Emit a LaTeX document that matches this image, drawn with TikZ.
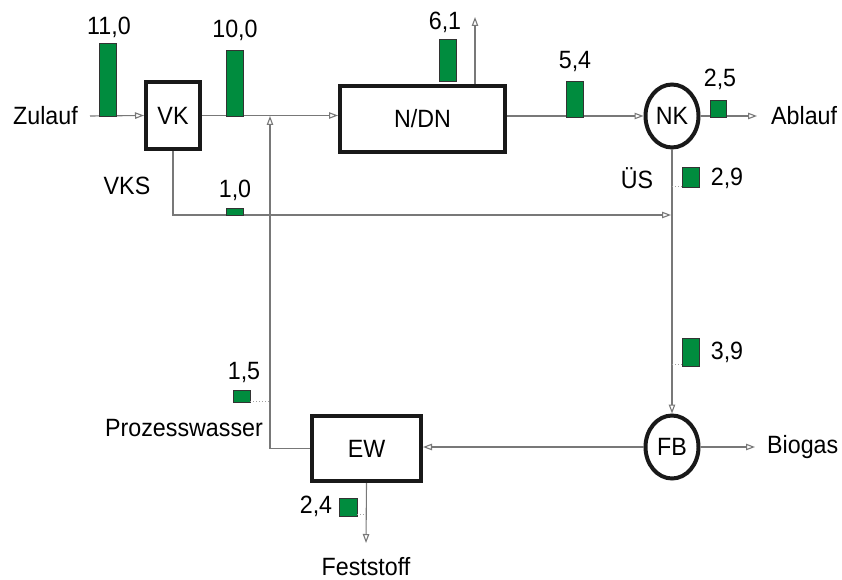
\documentclass[tikz,border=0pt]{standalone}
\usepackage{fontspec}
\setmainfont{Liberation Sans}[FakeStretch=0.93]
\usetikzlibrary{arrows.meta,shapes.geometric}
\definecolor{bargreen}{RGB}{0,140,62}
\definecolor{linegray}{RGB}{120,120,120}
\newcommand{\dtxt}{\fontsize{25}{28}\selectfont}
\tikzset{
  unit/.style={draw=black!90, line width=4pt, fill=white, inner sep=0pt, font=\dtxt},
  boxunit/.style={unit, rectangle},
  ellunit/.style={unit, ellipse, minimum width=53pt, minimum height=63pt},
  lbl/.style={inner sep=0pt, font=\dtxt},
  num/.style={inner sep=0pt, font=\dtxt},
  flow/.style={draw=linegray, line width=1.1pt, -{Triangle[open, length=9pt, width=6.5pt]}},
  bar/.style={fill=bargreen, draw=black!80, line width=0.8pt},
  dots/.style={draw=linegray!70, line width=1pt, dotted},
}
\begin{document}
\begin{tikzpicture}[x=1pt,y=-1pt]
\useasboundingbox (0,0) rectangle (842,580);
% units
\node[boxunit, minimum width=54pt, minimum height=67pt] (vk) at (173,115.5) {VK};
\node[boxunit, minimum width=165pt, minimum height=66pt] (ndn) at (422.5,119) {N/DN};
\node[ellunit] (nk) at (672,116) {NK};
\node[ellunit] (fb) at (672,447) {FB};
\node[boxunit, minimum width=109pt, minimum height=65pt] (ew) at (366.5,448.5) {EW};
% labels
\node[lbl, anchor=east, inner xsep=12pt] (zulauf) at (90,116) {Zulauf};
\node[lbl, anchor=west, inner xsep=14pt] (ablauf) at (757,116) {Ablauf};
\node[lbl, anchor=west, inner xsep=12pt] (biogas) at (755,447) {Biogas};
\node[lbl, anchor=north, inner ysep=14pt] (feststoff) at (366,543) {Feststoff};
\node[num] (vks) at (127,186) {VKS};
\node[num] (us) at (637,178) {ÜS};
\node[num] (pw) at (184,428) {Prozesswasser};
% junction coordinates
\coordinate (j1) at (270,116);
\coordinate (j2) at (672,215);
\coordinate (gas) at (475,17);
% connectors
\draw[flow] (zulauf.east) -- (vk.west);
\draw[flow] (vk.east) -- (vk.east -| ndn.west);
\draw[flow] (ew.west) -| (j1);
\draw[flow] (ndn.north -| gas) -- (gas);
\draw[flow] (ndn.east |- nk.west) -- (nk.west);
\draw[flow] (nk.east) -- (ablauf.west);
\draw[flow] (nk.south) -- (fb.north);
\draw[flow] (vk.south) |- ([xshift=-1pt]j2);
\draw[flow] (fb.west) -- (fb.west -| ew.east);
\draw[flow] (fb.east) -- (biogas.west);
\draw[flow] (ew.south) -- (feststoff.north);
% bars
\draw[bar] (99,43) rectangle (116,116);
\node[num] (v110) at (109,27) {11,0};
\draw[bar] (226,50) rectangle (243,116);
\node[num] (v100) at (235,30) {10,0};
\draw[bar] (439,39) rectangle (456,81);
\node[num] (v61) at (445,22) {6,1};
\draw[bar] (566,81) rectangle (583,117);
\node[num] (v54) at (575,62) {5,4};
\draw[bar] (710,100) rectangle (726,117);
\node[num] (v25) at (720,79) {2,5};
\draw[bar] (682,167) rectangle (699,187);
\node[num] (v29) at (727,178) {2,9};
\draw[dots] (672,186) -- (682,186);
\draw[bar] (226,208) rectangle (243,215);
\node[num] (v10) at (235,190) {1,0};
\draw[bar] (682,338) rectangle (699,366);
\node[num] (v39) at (727,352) {3,9};
\draw[dots] (672,364) -- (682,364);
\draw[bar] (233,390) rectangle (250,402);
\node[num] (v15) at (244,372) {1,5};
\draw[dots] (250,401) -- (270,401);
\draw[bar] (339,498) rectangle (357,516);
\node[num] (v24) at (316,506) {2,4};
\draw[dots] (357,514) -- (366,514);
\end{tikzpicture}
\end{document}
